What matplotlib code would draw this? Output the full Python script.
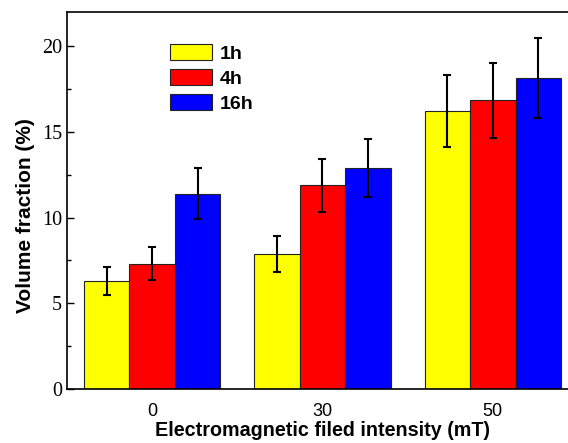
import numpy as np
import matplotlib.pyplot as plt
from matplotlib.ticker import MultipleLocator

# -------------------------------
# Datos
# -------------------------------
intensidad = ["0", "30", "50"]
series = ["1h", "4h", "16h"]
colores = ["#ffff00", "#ff0000", "#0000ff"]

v_1h = [6.3, 7.9, 16.2]
v_4h = [7.3, 11.9, 16.85]
v_16h = [11.4, 12.9, 18.15]

e_1h = [0.83, 1.05, 2.1]
e_4h = [0.96, 1.55, 2.2]
e_16h = [1.5, 1.69, 2.36]

valores = [v_1h, v_4h, v_16h]
errores = [e_1h, e_4h, e_16h]

# -------------------------------
# Graficar
# -------------------------------
fig = plt.figure(figsize=(5.68, 4.43), dpi=100)
ax = fig.add_axes([67 / 568, 1 - 389 / 443, 511 / 568, 377 / 443])

x = np.arange(len(intensidad))
ancho = 0.267
for i, (nombre, col) in enumerate(zip(series, colores)):
    ax.bar(x + (i - 1) * ancho, valores[i], ancho, color=col,
           edgecolor="#222222", linewidth=0.8, label=nombre,
           yerr=errores[i], capsize=3.2,
           error_kw=dict(ecolor="black", elinewidth=1.5, capthick=1.5))

ax.set_xlim(-0.5, 2.5)
ax.set_ylim(0, 22)
ax.set_xticks(x)
ax.set_xticklabels(intensidad, family="Liberation Sans", fontsize=13)
ax.yaxis.set_major_locator(MultipleLocator(5))
ax.yaxis.set_minor_locator(MultipleLocator(2.5))
for lab in ax.get_yticklabels():
    lab.set_family("Liberation Serif")
    lab.set_fontsize(14.5)
ax.tick_params(axis="y", which="major", direction="in", length=5, width=1)
ax.tick_params(axis="y", which="minor", direction="in", length=3, width=1)
ax.tick_params(axis="x", length=0, pad=10)
ax.spines["right"].set_visible(False)
for s in ["left", "bottom", "top"]:
    ax.spines[s].set_linewidth(1.2)

ax.set_xlabel("Electromagnetic filed intensity (mT)", family="Liberation Sans",
              fontsize=14.2, fontweight="bold", labelpad=1)
ax.set_ylabel("Volume fraction (%)", family="Liberation Sans",
              fontsize=15, fontweight="bold")
ax.yaxis.set_label_coords(-0.062, 0.46)

leg = ax.legend(loc="upper left", bbox_to_anchor=(0.2016, 0.915), frameon=False,
                prop=dict(family="Liberation Sans", weight="bold", size=14),
                handlelength=2.15, handleheight=0.85, handletextpad=0.4,
                labelspacing=0.34, borderpad=0, borderaxespad=0)

fig.savefig("out.png", dpi=100)
